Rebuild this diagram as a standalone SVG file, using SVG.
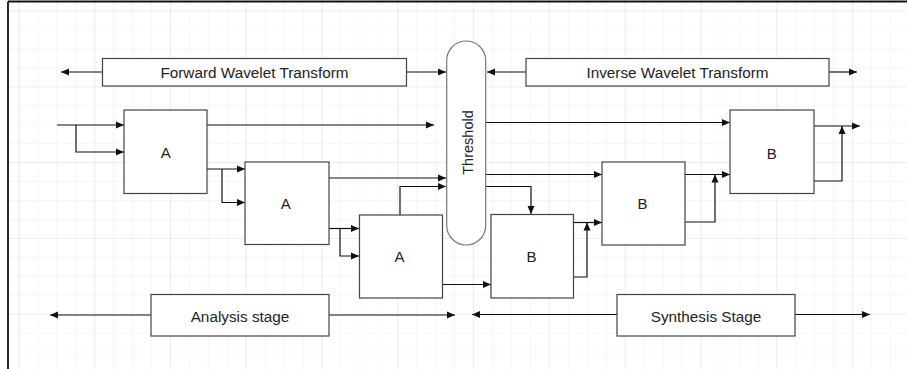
<svg xmlns="http://www.w3.org/2000/svg" width="907" height="369" viewBox="0 0 907 369">
<defs>
  <pattern id="gmin" patternUnits="userSpaceOnUse" x="18.3" y="10.5" width="18.95" height="18.95">
    <path d="M0,0 V18.95 M0,0 H18.95" fill="none" stroke="#eeeeee" stroke-width="1"/>
  </pattern>
  <pattern id="gmaj" patternUnits="userSpaceOnUse" x="18.3" y="10.5" width="75.8" height="75.8">
    <path d="M0,0 V75.8 M0,0 H75.8" fill="none" stroke="#e2e2e2" stroke-width="1"/>
  </pattern>
  <marker id="ah" markerUnits="userSpaceOnUse" markerWidth="9" markerHeight="8" refX="8" refY="4" orient="auto">
    <path d="M0,0.5 L8,4 L0,7.5 z" fill="#111"/>
  </marker>
</defs>
<style>
  .box { fill: #ffffff; stroke: #444; stroke-width: 1.2; }
  .pill { fill: #ffffff; stroke: #777; stroke-width: 1.2; }
  .lbl { font-family: "Liberation Sans", Arial, sans-serif; font-size: 15.3px; fill: #222; text-anchor: middle; }
  .thr { font-size: 14.5px; }
  .big { font-size: 15px; }
  .con { fill: none; stroke: #111; stroke-width: 1.2; }
  .arr { marker-end: url(#ah); }
</style>
<rect width="907" height="369" fill="#ffffff"/>
<rect x="8" y="0" width="899" height="369" fill="url(#gmin)"/>
<rect x="8" y="0" width="899" height="369" fill="url(#gmaj)"/>
<path d="M8,1.5 H907 M8,1.5 V369" fill="none" stroke="#111" stroke-width="1.8"/>

<g id="connectors">
  <line class="con arr" x1="102" y1="72" x2="61" y2="72"/>
  <line class="con arr" x1="407" y1="72" x2="446" y2="72"/>
  <line class="con arr" x1="526" y1="72" x2="487" y2="72"/>
  <line class="con arr" x1="829" y1="72" x2="857" y2="72"/>
  <line class="con arr" x1="57" y1="125" x2="124" y2="125"/>
  <polyline class="con arr" points="76,125 76,152 124,152"/>
  <line class="con arr" x1="207" y1="125" x2="434" y2="125"/>
  <line class="con arr" x1="207" y1="169" x2="245" y2="169"/>
  <polyline class="con arr" points="222,169 222,202.5 245,202.5"/>
  <line class="con arr" x1="329" y1="178" x2="446" y2="178"/>
  <line class="con arr" x1="329" y1="228.5" x2="359" y2="228.5"/>
  <polyline class="con arr" points="340,228.5 340,256 359,256"/>
  <polyline class="con arr" points="400,215 400,186.5 446,186.5"/>
  <line class="con arr" x1="442" y1="284.5" x2="491" y2="284.5"/>
  <line class="con arr" x1="486" y1="122.5" x2="730" y2="122.5"/>
  <line class="con arr" x1="486" y1="174.5" x2="602" y2="174.5"/>
  <polyline class="con arr" points="486,186.5 531,186.5 531,214"/>
  <line class="con arr" x1="574" y1="222.5" x2="602" y2="222.5"/>
  <polyline class="con arr" points="574,277 587,277 587,222.5"/>
  <line class="con arr" x1="685" y1="174.5" x2="730" y2="174.5"/>
  <polyline class="con arr" points="685,222 715,222 715,174.5"/>
  <line class="con arr" x1="814" y1="126" x2="860" y2="126"/>
  <polyline class="con arr" points="814,181 842,181 842,126"/>
  <line class="con arr" x1="151" y1="315" x2="50" y2="315"/>
  <line class="con arr" x1="329" y1="315" x2="455" y2="315"/>
  <line class="con arr" x1="617" y1="314.5" x2="472" y2="314.5"/>
  <line class="con arr" x1="795" y1="314.5" x2="870" y2="314.5"/>
</g>

<g id="forward">
  <rect class="box" x="102.5" y="58.5" width="304" height="27.5"/>
  <text class="lbl" x="254.5" y="78">Forward Wavelet Transform</text>
</g>
<g id="inverse">
  <rect class="box" x="526" y="58.5" width="303" height="27.5"/>
  <text class="lbl" x="677.5" y="78">Inverse Wavelet Transform</text>
</g>
<g id="threshold">
  <rect class="pill" x="446.7" y="41" width="39" height="204" rx="19.5" ry="19.5"/>
  <text class="lbl thr" transform="translate(472.5,142.5) rotate(-90)" x="0" y="0">Threshold</text>
</g>
<g id="A1">
  <rect class="box" x="124" y="110" width="83" height="83.5"/>
  <text class="lbl big" x="165.7" y="158.3">A</text>
</g>
<g id="A2">
  <rect class="box" x="245" y="162" width="84" height="82.5"/>
  <text class="lbl big" x="285.7" y="209">A</text>
</g>
<g id="A3">
  <rect class="box" x="359.5" y="215" width="83" height="83"/>
  <text class="lbl big" x="399.5" y="262.3">A</text>
</g>
<g id="B1">
  <rect class="box" x="491" y="214.5" width="82.5" height="83.5"/>
  <text class="lbl big" x="531.5" y="262.3">B</text>
</g>
<g id="B2">
  <rect class="box" x="602" y="162" width="83" height="83"/>
  <text class="lbl big" x="642.5" y="209">B</text>
</g>
<g id="B3">
  <rect class="box" x="730" y="110" width="84" height="83.5"/>
  <text class="lbl big" x="771.7" y="159">B</text>
</g>
<g id="analysis">
  <rect class="box" x="151" y="294.5" width="178" height="41.5"/>
  <text class="lbl" x="240" y="321.5">Analysis stage</text>
</g>
<g id="synthesis">
  <rect class="box" x="617" y="294.5" width="178" height="41.5"/>
  <text class="lbl" x="706" y="321.5">Synthesis Stage</text>
</g>
</svg>
